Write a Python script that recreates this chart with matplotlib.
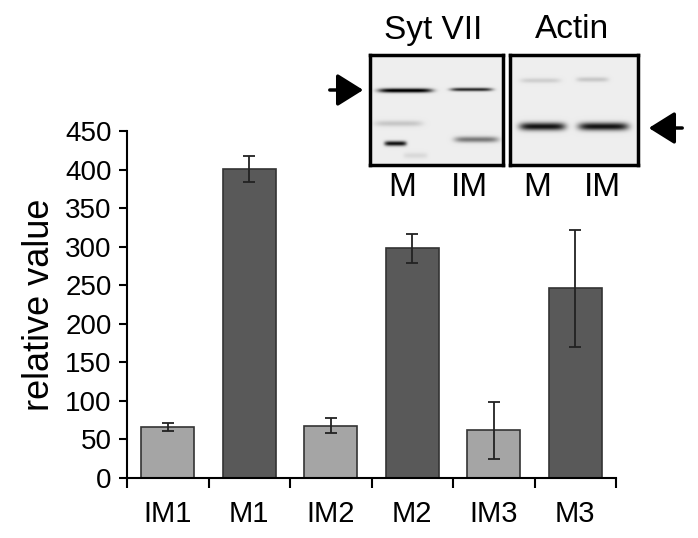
import numpy as np
import matplotlib
matplotlib.use("Agg")
import matplotlib.pyplot as plt

plt.rcParams['font.family'] = ['Liberation Sans', 'DejaVu Sans']

# bar data
categories = ["IM1", "M1", "IM2", "M2", "IM3", "M3"]
values = [66, 401, 68, 298, 62, 246]
errors = [5.5, 17, 10, 19, 37, 76]
colors = ["#a5a5a5", "#595959", "#a5a5a5", "#595959", "#a5a5a5", "#595959"]

# blot bands: (x center, y center, half width, thickness, intensity) in panel px
syt_bands = [(35, 35, 27, 2.2, 0.95), (101, 34, 21, 1.8, 0.75),
             (28, 68, 24, 3.0, 0.15), (25, 88, 11, 2.5, 0.85),
             (106, 84, 22, 3.0, 0.45), (45, 100, 12, 3.0, 0.08)]
actin_bands = [(30, 25, 20, 2.5, 0.12), (82, 24, 16, 2.5, 0.15),
               (32, 71, 23, 4.0, 0.85), (93, 71, 25, 4.0, 0.85)]
lane_labels = ["M", "IM"]

W, H = 698, 538
fig = plt.figure(figsize=(W / 100, H / 100), dpi=100)
ax = fig.add_axes([127 / W, 1 - 478 / H, (616 - 127) / W, (478 - 131) / H])

x = np.arange(len(categories))
ax.bar(x, values, width=0.65, color=colors, edgecolor="#333333", linewidth=1.2,
       yerr=errors, capsize=4, error_kw=dict(ecolor="#222222", elinewidth=1.3, capthick=1.3))
ax.set_xlim(-0.5, len(categories) - 0.5)
ax.set_ylim(0, 450)
ax.set_yticks(np.arange(0, 451, 50))
ax.tick_params(axis="y", labelsize=20, length=6, width=1.5, direction="out", pad=5)
ax.set_xticks(x)
ax.set_xticklabels(categories, fontsize=21)
ax.tick_params(axis="x", length=0, pad=16)
ax.set_xticks(np.arange(-0.5, len(categories), 1), minor=True)
ax.tick_params(axis="x", which="minor", length=7, width=1.5, direction="out")
for s in ["top", "right"]:
    ax.spines[s].set_visible(False)
for s in ["left", "bottom"]:
    ax.spines[s].set_linewidth(1.5)
ax.set_ylabel("relative value", fontsize=26, labelpad=6)


def blot(left, width, bands, pw, ph):
    bx = fig.add_axes([left / W, 1 - 165 / H, width / W, 110 / H])
    yy, xx = np.mgrid[0:ph, 0:pw]
    img = np.full((ph, pw), 0.07)
    for xc, yc, hw, th, inten in bands:
        prof_x = np.exp(-((xx - xc) / hw) ** 6)
        prof_y = np.exp(-((yy - yc) / th) ** 2)
        img += inten * prof_x * prof_y
    bx.imshow(np.clip(img, 0, 1), cmap="gray_r", vmin=0, vmax=1, aspect="auto",
              extent=(0, pw, ph, 0), interpolation="bilinear")
    bx.set_xticks([])
    bx.set_yticks([])
    for s in bx.spines.values():
        s.set_linewidth(2.5)
    return bx


blot(370, 133, syt_bands, 133, 110)
blot(510, 128, actin_bands, 128, 110)

fig.text(433 / W, 1 - 30 / H, "Syt VII", fontsize=24, ha="center", va="center")
fig.text(572 / W, 1 - 30 / H, "Actin", fontsize=24, ha="center", va="center")
for xc, lab in zip([402, 469, 537, 602], lane_labels * 2):
    fig.text(xc / W, 1 - 188 / H, lab, fontsize=24, ha="center", va="center")

fig.patches.append(matplotlib.patches.FancyArrowPatch(
    (327 / W, 1 - 90 / H), (366 / W, 1 - 90 / H), transform=fig.transFigure,
    arrowstyle="-|>,head_length=0.8,head_width=0.5", mutation_scale=20, lw=2.5, color="black"))
fig.patches.append(matplotlib.patches.FancyArrowPatch(
    (685 / W, 1 - 128 / H), (646 / W, 1 - 128 / H), transform=fig.transFigure,
    arrowstyle="-|>,head_length=0.8,head_width=0.5", mutation_scale=20, lw=2.5, color="black"))

fig.savefig("out.png", dpi=100)
